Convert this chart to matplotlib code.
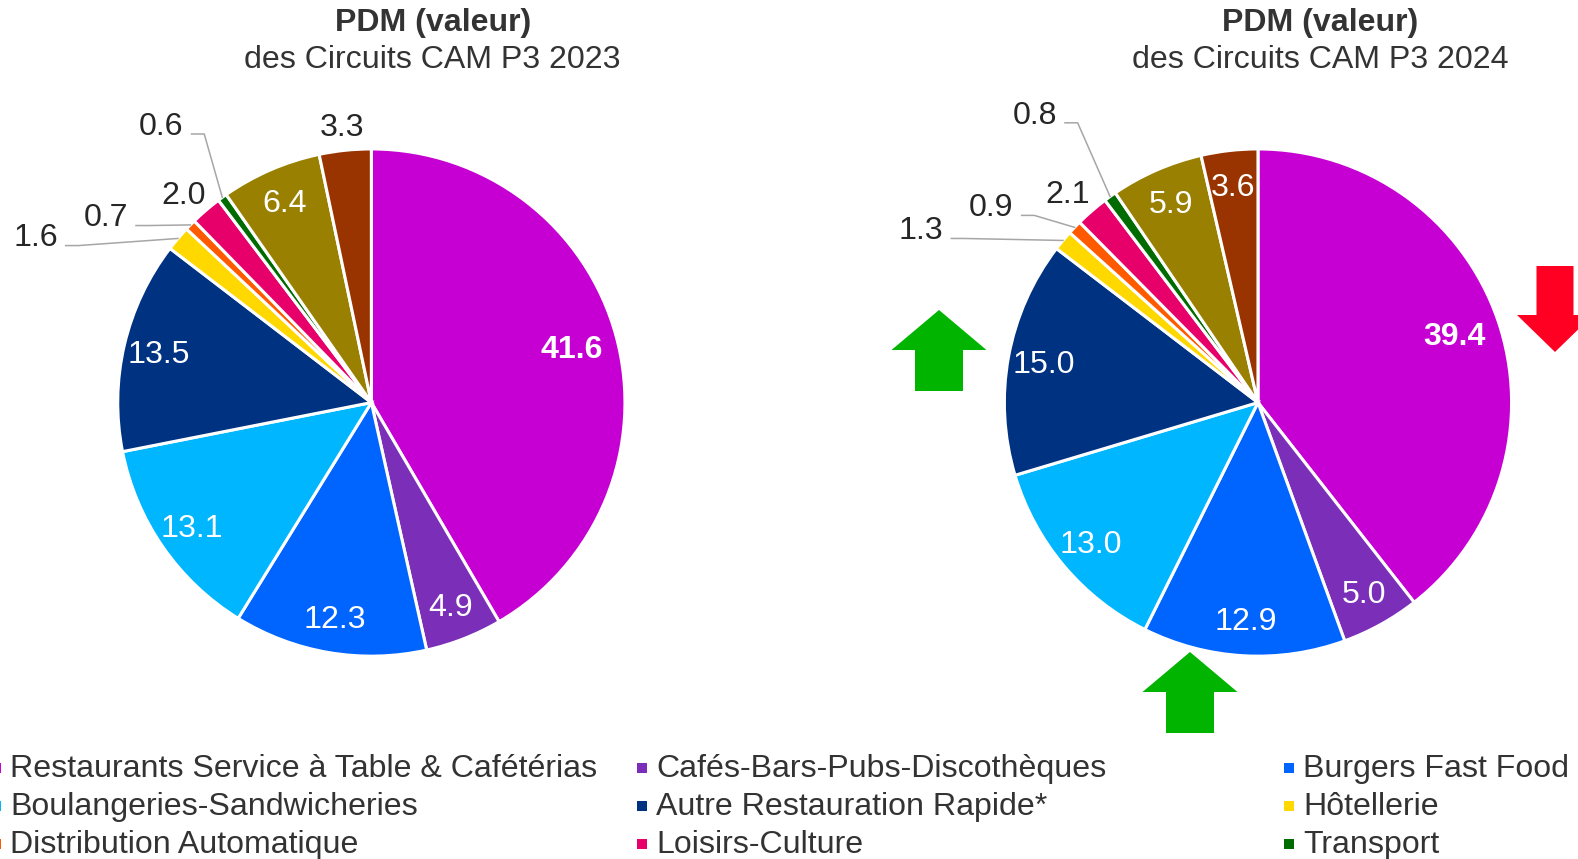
import matplotlib
matplotlib.use("Agg")
import matplotlib.pyplot as plt
from matplotlib.patches import FancyArrow, Rectangle
import numpy as np

plt.rcParams['font.family'] = ['Liberation Sans', 'DejaVu Sans']

# Data
categories = [
    "Restaurants Service à Table & Cafétérias",
    "Cafés-Bars-Pubs-Discothèques",
    "Burgers Fast Food",
    "Boulangeries-Sandwicheries",
    "Autre Restauration Rapide*",
    "Hôtellerie",
    "Distribution Automatique",
    "Loisirs-Culture",
    "Transport",
    "Restauration Collective",
    "Autres Circuits",
]
values_2023 = [41.6, 4.9, 12.3, 13.1, 13.5, 1.6, 0.7, 2.0, 0.6, 6.4, 3.3]
values_2024 = [39.4, 5.0, 12.9, 13.0, 15.0, 1.3, 0.9, 2.1, 0.8, 5.9, 3.6]
years = ["2023", "2024"]

colors = ["#C600D2", "#7B2FB8", "#0064FF", "#00B6FF", "#003282", "#FFD800",
          "#FF5A00", "#E8006A", "#006B00", "#998000", "#993300"]

W, H = 1578, 859
S = 1578 / 1568  # measured on a slightly shrunk view
R = 252 * S  # pie radius in px
fs = 23.1
txt_col = "#333333"
dy_txt = 2  # visual centring of text

# outside labels: index -> (text position in radius units, has leader)
outside = [
    {10: ((-0.115, 1.091), False), 8: ((-0.829, 1.095), True), 7: ((-0.742, 0.821), False),
     6: ((-1.048, 0.734), True), 5: ((-1.325, 0.655), True)},
    {8: ((-0.881, 1.139), True), 7: ((-0.75, 0.825), False),
     6: ((-1.052, 0.774), True), 5: ((-1.329, 0.683), True)},
]
centers = [(369 * S, 400 * S), (1250 * S, 400 * S)]
title_x = [430 * S, 1312 * S]

fig = plt.figure(figsize=(W / 100, H / 100), dpi=100)

for k, vals in enumerate([values_2023, values_2024]):
    cx, cy = centers[k]
    half = 300
    ax = fig.add_axes([(cx - half) / W, (H - cy - half) / H, 2 * half / W, 2 * half / H])
    lim = half / R
    wedges, _ = ax.pie(vals, colors=colors, startangle=90, counterclock=False,
                       wedgeprops=dict(edgecolor="white", linewidth=2.2))
    ax.set_xlim(-lim, lim)
    ax.set_ylim(-lim, lim)
    ax.set_aspect("equal")
    ax.axis("off")
    off = dy_txt / R
    for i, w in enumerate(wedges):
        mid = np.deg2rad((w.theta1 + w.theta2) / 2)
        label = f"{vals[i]:.1f}"
        if i in outside[k]:
            (tx, ty), leader = outside[k][i]
            ax.text(tx, ty - off, label, ha="center", va="center", fontsize=fs,
                    color="#262626")
            if leader:
                sx, sy = tx + 0.12, ty - 0.036
                ex, ey = np.cos(mid), np.sin(mid)
                ax.plot([sx, sx + 0.05, ex], [sy, sy, ey], color="#A6A6A6",
                        lw=1.1, clip_on=False)
        else:
            r = 0.82 if i == 0 else 0.86
            ax.text(r * np.cos(mid), r * np.sin(mid) - off, label, ha="center",
                    va="center", fontsize=fs, color="white",
                    fontweight="bold" if i == 0 else "normal")

    fig.text(title_x[k] / W, 1 - (20 * S + 3) / H, "PDM (valeur)", ha="center",
             va="center", fontsize=fs, fontweight="bold", color=txt_col)
    fig.text(title_x[k] / W, 1 - (57 * S + 3) / H, f"des Circuits CAM P3 {years[k]}",
             ha="center", va="center", fontsize=fs, color=txt_col)

# overlay in pixel coordinates for arrows and legend
ov = fig.add_axes([0, 0, 1, 1])
ov.set_xlim(0, W)
ov.set_ylim(H, 0)
ov.axis("off")
ov.patch.set_alpha(0)

arrows = [
    (939, 391, -81, "#00B400"),
    (1190, 733, -81, "#00B400"),
    (1555, 266, 86, "#FF0022"),
]
for x, y, dy, c in arrows:
    red = c == "#FF0022"
    ov.add_patch(FancyArrow(x, y, 0, dy, width=37 if red else 48,
                            head_width=76 if red else 95,
                            head_length=37 if red else 40,
                            length_includes_head=True, color=c, lw=0))

# legend (3 columns, row-major, last row cut by the figure edge)
col_x = [10 * S, 652 * S, 1295 * S]
row_y = [762 * S, 800 * S, 838 * S]
for i, name in enumerate(categories):
    row, col = divmod(i, 3)
    if row >= len(row_y):
        continue
    x, y = col_x[col], row_y[row]
    ov.add_patch(Rectangle((x - 19, y - 4), 10, 10, color=colors[i], lw=0))
    ov.text(x, y + dy_txt, name, ha="left", va="center", fontsize=fs, color=txt_col)

fig.savefig("out.png", dpi=100)
